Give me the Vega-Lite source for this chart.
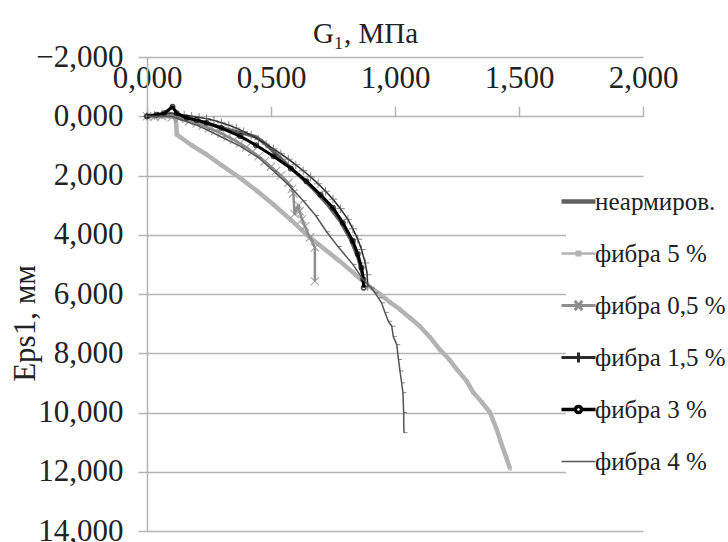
{
  "$schema": "https://vega.github.io/schema/vega-lite/v6.json",
  "width": 496,
  "height": 474,
  "autosize": {"type": "none"},
  "padding": {"left": 147, "top": 57, "right": 85, "bottom": 11},
  "background": "white",
  "config": {
    "locale": {"number": {"decimal": ",", "thousands": "\u00a0", "grouping": [3], "currency": ["", ""]}},
    "view": {"stroke": null},
    "font": "Liberation Serif"
  },
  "data": {"values": [
    {"s": "неармиров.", "g": 0, "e": 0}, {"s": "неармиров.", "g": 0.05, "e": -0.05}, {"s": "неармиров.", "g": 0.1, "e": -0.08}, {"s": "неармиров.", "g": 0.13, "e": 0}, {"s": "неармиров.", "g": 0.2, "e": 0.15}, {"s": "неармиров.", "g": 0.28, "e": 0.33}, {"s": "неармиров.", "g": 0.35, "e": 0.5}, {"s": "неармиров.", "g": 0.4, "e": 0.6}, {"s": "неармиров.", "g": 0.44, "e": 0.7}, {"s": "неармиров.", "g": 0.48, "e": 0.95}, {"s": "неармиров.", "g": 0.53, "e": 1.35}, {"s": "неармиров.", "g": 0.6, "e": 1.9}, {"s": "неармиров.", "g": 0.67, "e": 2.45}, {"s": "неармиров.", "g": 0.73, "e": 3.0}, {"s": "неармиров.", "g": 0.78, "e": 3.55}, {"s": "неармиров.", "g": 0.82, "e": 4.15}, {"s": "неармиров.", "g": 0.85, "e": 4.75}, {"s": "неармиров.", "g": 0.868, "e": 5.3}, {"s": "неармиров.", "g": 0.875, "e": 5.75},

    {"s": "фибра 5 %", "g": 0, "e": 0}, {"s": "фибра 5 %", "g": 0.05, "e": 0}, {"s": "фибра 5 %", "g": 0.114, "e": 0}, {"s": "фибра 5 %", "g": 0.118, "e": 0.3}, {"s": "фибра 5 %", "g": 0.12, "e": 0.62}, {"s": "фибра 5 %", "g": 0.18, "e": 0.98}, {"s": "фибра 5 %", "g": 0.24, "e": 1.29}, {"s": "фибра 5 %", "g": 0.3, "e": 1.65}, {"s": "фибра 5 %", "g": 0.375, "e": 2.08}, {"s": "фибра 5 %", "g": 0.44, "e": 2.5}, {"s": "фибра 5 %", "g": 0.51, "e": 2.98}, {"s": "фибра 5 %", "g": 0.58, "e": 3.5}, {"s": "фибра 5 %", "g": 0.643, "e": 3.99}, {"s": "фибра 5 %", "g": 0.71, "e": 4.45}, {"s": "фибра 5 %", "g": 0.777, "e": 4.89}, {"s": "фибра 5 %", "g": 0.83, "e": 5.27}, {"s": "фибра 5 %", "g": 0.885, "e": 5.67}, {"s": "фибра 5 %", "g": 0.938, "e": 6.0}, {"s": "фибра 5 %", "g": 0.98, "e": 6.28}, {"s": "фибра 5 %", "g": 1.02, "e": 6.52}, {"s": "фибра 5 %", "g": 1.06, "e": 6.8}, {"s": "фибра 5 %", "g": 1.1, "e": 7.09}, {"s": "фибра 5 %", "g": 1.14, "e": 7.45}, {"s": "фибра 5 %", "g": 1.18, "e": 7.87}, {"s": "фибра 5 %", "g": 1.22, "e": 8.22}, {"s": "фибра 5 %", "g": 1.25, "e": 8.55}, {"s": "фибра 5 %", "g": 1.29, "e": 8.95}, {"s": "фибра 5 %", "g": 1.315, "e": 9.32}, {"s": "фибра 5 %", "g": 1.35, "e": 9.65}, {"s": "фибра 5 %", "g": 1.383, "e": 10.0}, {"s": "фибра 5 %", "g": 1.41, "e": 10.57}, {"s": "фибра 5 %", "g": 1.435, "e": 11.2}, {"s": "фибра 5 %", "g": 1.45, "e": 11.55}, {"s": "фибра 5 %", "g": 1.464, "e": 11.9},

    {"s": "фибра 0,5 %", "g": 0, "e": 0}, {"s": "фибра 0,5 %", "g": 0.03, "e": 0.02}, {"s": "фибра 0,5 %", "g": 0.06, "e": 0}, {"s": "фибра 0,5 %", "g": 0.1, "e": 0.03}, {"s": "фибра 0,5 %", "g": 0.13, "e": 0.08}, {"s": "фибра 0,5 %", "g": 0.17, "e": 0.17}, {"s": "фибра 0,5 %", "g": 0.2, "e": 0.25}, {"s": "фибра 0,5 %", "g": 0.225, "e": 0.32}, {"s": "фибра 0,5 %", "g": 0.25, "e": 0.4}, {"s": "фибра 0,5 %", "g": 0.275, "e": 0.49}, {"s": "фибра 0,5 %", "g": 0.3, "e": 0.58}, {"s": "фибра 0,5 %", "g": 0.325, "e": 0.69}, {"s": "фибра 0,5 %", "g": 0.35, "e": 0.8}, {"s": "фибра 0,5 %", "g": 0.375, "e": 0.92}, {"s": "фибра 0,5 %", "g": 0.4, "e": 1.05}, {"s": "фибра 0,5 %", "g": 0.425, "e": 1.2}, {"s": "фибра 0,5 %", "g": 0.45, "e": 1.35}, {"s": "фибра 0,5 %", "g": 0.475, "e": 1.52}, {"s": "фибра 0,5 %", "g": 0.5, "e": 1.7}, {"s": "фибра 0,5 %", "g": 0.52, "e": 1.85}, {"s": "фибра 0,5 %", "g": 0.54, "e": 2.0}, {"s": "фибра 0,5 %", "g": 0.57, "e": 2.25}, {"s": "фибра 0,5 %", "g": 0.585, "e": 2.45}, {"s": "фибра 0,5 %", "g": 0.59, "e": 2.6}, {"s": "фибра 0,5 %", "g": 0.595, "e": 3.3}, {"s": "фибра 0,5 %", "g": 0.61, "e": 3.0}, {"s": "фибра 0,5 %", "g": 0.615, "e": 3.2}, {"s": "фибра 0,5 %", "g": 0.625, "e": 3.48}, {"s": "фибра 0,5 %", "g": 0.637, "e": 3.72}, {"s": "фибра 0,5 %", "g": 0.657, "e": 4.09}, {"s": "фибра 0,5 %", "g": 0.677, "e": 4.43}, {"s": "фибра 0,5 %", "g": 0.677, "e": 5.57},

    {"s": "фибра 1,5 %", "g": 0, "e": 0}, {"s": "фибра 1,5 %", "g": 0.03, "e": -0.03}, {"s": "фибра 1,5 %", "g": 0.06, "e": -0.07}, {"s": "фибра 1,5 %", "g": 0.09, "e": -0.1}, {"s": "фибра 1,5 %", "g": 0.12, "e": -0.08}, {"s": "фибра 1,5 %", "g": 0.15, "e": -0.04}, {"s": "фибра 1,5 %", "g": 0.18, "e": 0}, {"s": "фибра 1,5 %", "g": 0.21, "e": 0.04}, {"s": "фибра 1,5 %", "g": 0.24, "e": 0.08}, {"s": "фибра 1,5 %", "g": 0.27, "e": 0.14}, {"s": "фибра 1,5 %", "g": 0.3, "e": 0.22}, {"s": "фибра 1,5 %", "g": 0.33, "e": 0.3}, {"s": "фибра 1,5 %", "g": 0.36, "e": 0.4}, {"s": "фибра 1,5 %", "g": 0.39, "e": 0.52}, {"s": "фибра 1,5 %", "g": 0.42, "e": 0.64}, {"s": "фибра 1,5 %", "g": 0.45, "e": 0.78}, {"s": "фибра 1,5 %", "g": 0.48, "e": 0.94}, {"s": "фибра 1,5 %", "g": 0.51, "e": 1.1}, {"s": "фибра 1,5 %", "g": 0.54, "e": 1.27}, {"s": "фибра 1,5 %", "g": 0.57, "e": 1.45}, {"s": "фибра 1,5 %", "g": 0.6, "e": 1.64}, {"s": "фибра 1,5 %", "g": 0.63, "e": 1.84}, {"s": "фибра 1,5 %", "g": 0.66, "e": 2.05}, {"s": "фибра 1,5 %", "g": 0.69, "e": 2.28}, {"s": "фибра 1,5 %", "g": 0.72, "e": 2.53}, {"s": "фибра 1,5 %", "g": 0.75, "e": 2.8}, {"s": "фибра 1,5 %", "g": 0.78, "e": 3.12}, {"s": "фибра 1,5 %", "g": 0.81, "e": 3.48}, {"s": "фибра 1,5 %", "g": 0.83, "e": 3.8}, {"s": "фибра 1,5 %", "g": 0.85, "e": 4.15}, {"s": "фибра 1,5 %", "g": 0.865, "e": 4.5}, {"s": "фибра 1,5 %", "g": 0.88, "e": 4.95}, {"s": "фибра 1,5 %", "g": 0.888, "e": 5.35}, {"s": "фибра 1,5 %", "g": 0.89, "e": 5.75},

    {"s": "фибра 3 %", "g": 0, "e": 0}, {"s": "фибра 3 %", "g": 0.04, "e": -0.05}, {"s": "фибра 3 %", "g": 0.07, "e": -0.1}, {"s": "фибра 3 %", "g": 0.103, "e": -0.32}, {"s": "фибра 3 %", "g": 0.12, "e": -0.1}, {"s": "фибра 3 %", "g": 0.16, "e": 0.05}, {"s": "фибра 3 %", "g": 0.2, "e": 0.13}, {"s": "фибра 3 %", "g": 0.24, "e": 0.22}, {"s": "фибра 3 %", "g": 0.3, "e": 0.4}, {"s": "фибра 3 %", "g": 0.375, "e": 0.67}, {"s": "фибра 3 %", "g": 0.44, "e": 0.98}, {"s": "фибра 3 %", "g": 0.51, "e": 1.35}, {"s": "фибра 3 %", "g": 0.58, "e": 1.76}, {"s": "фибра 3 %", "g": 0.643, "e": 2.19}, {"s": "фибра 3 %", "g": 0.7, "e": 2.65}, {"s": "фибра 3 %", "g": 0.75, "e": 3.09}, {"s": "фибра 3 %", "g": 0.79, "e": 3.6}, {"s": "фибра 3 %", "g": 0.83, "e": 4.21}, {"s": "фибра 3 %", "g": 0.85, "e": 4.65}, {"s": "фибра 3 %", "g": 0.865, "e": 5.11}, {"s": "фибра 3 %", "g": 0.872, "e": 5.5}, {"s": "фибра 3 %", "g": 0.874, "e": 5.79},

    {"s": "фибра 4 %", "g": 0, "e": 0}, {"s": "фибра 4 %", "g": 0.05, "e": 0}, {"s": "фибра 4 %", "g": 0.1, "e": 0}, {"s": "фибра 4 %", "g": 0.13, "e": 0.1}, {"s": "фибра 4 %", "g": 0.2, "e": 0.3}, {"s": "фибра 4 %", "g": 0.24, "e": 0.45}, {"s": "фибра 4 %", "g": 0.3, "e": 0.7}, {"s": "фибра 4 %", "g": 0.375, "e": 1.01}, {"s": "фибра 4 %", "g": 0.45, "e": 1.4}, {"s": "фибра 4 %", "g": 0.51, "e": 1.85}, {"s": "фибра 4 %", "g": 0.576, "e": 2.36}, {"s": "фибра 4 %", "g": 0.63, "e": 2.85}, {"s": "фибра 4 %", "g": 0.68, "e": 3.35}, {"s": "фибра 4 %", "g": 0.724, "e": 3.9}, {"s": "фибра 4 %", "g": 0.77, "e": 4.4}, {"s": "фибра 4 %", "g": 0.83, "e": 5.0}, {"s": "фибра 4 %", "g": 0.87, "e": 5.5}, {"s": "фибра 4 %", "g": 0.905, "e": 5.8}, {"s": "фибра 4 %", "g": 0.919, "e": 5.96}, {"s": "фибра 4 %", "g": 0.933, "e": 6.13}, {"s": "фибра 4 %", "g": 0.946, "e": 6.3}, {"s": "фибра 4 %", "g": 0.96, "e": 6.63}, {"s": "фибра 4 %", "g": 0.973, "e": 6.92}, {"s": "фибра 4 %", "g": 0.987, "e": 7.09}, {"s": "фибра 4 %", "g": 0.993, "e": 7.43}, {"s": "фибра 4 %", "g": 1.007, "e": 7.71}, {"s": "фибра 4 %", "g": 1.014, "e": 8.21}, {"s": "фибра 4 %", "g": 1.02, "e": 8.6}, {"s": "фибра 4 %", "g": 1.027, "e": 9.0}, {"s": "фибра 4 %", "g": 1.032, "e": 9.33}, {"s": "фибра 4 %", "g": 1.035, "e": 10.0}, {"s": "фибра 4 %", "g": 1.036, "e": 10.68}
  ]},
  "encoding": {
    "x": {
      "field": "g", "type": "quantitative",
      "scale": {"domain": [0, 2], "nice": false, "zero": false},
      "axis": {
        "orient": "top", "offset": -59.25, "values": [0, 0.5, 1, 1.5, 2], "format": ".3f",
        "title": "G₁, МПа", "titleFont": "Liberation Serif", "titleFontSize": 29, "titleFontWeight": "normal", "titleColor": "#222",
        "titleX": 218, "titleY": -74, "titleBaseline": "alphabetic", "titleAlign": "center", "titleAnchor": null,
        "labelFont": "Liberation Serif", "labelFontSize": 31, "labelColor": "#222", "labelBaseline": "alphabetic",
        "labelPadding": 19, "tickSize": 10, "tickColor": "#b4b4b4", "tickWidth": 1.5,
        "domain": false, "grid": false, "labelFlush": false, "labelOverlap": false
      }
    },
    "y": {
      "field": "e", "type": "quantitative",
      "scale": {"domain": [-2, 14], "nice": false, "zero": false, "reverse": true},
      "axis": {
        "values": [-2, 0, 2, 4, 6, 8, 10, 12, 14], "format": ".3f",
        "title": "Eps1, мм", "titleFont": "Liberation Serif", "titleFontSize": 31, "titleFontWeight": "normal", "titleColor": "#222",
        "titleX": -122, "titleY": 266, "titleBaseline": "middle", "titleAlign": "center", "titleAnchor": null, "titleAngle": -90,
        "labelFont": "Liberation Serif", "labelFontSize": 31, "labelColor": "#222",
        "labelPadding": 15, "tickSize": 9, "tickColor": "#b4b4b4", "tickWidth": 1.5,
        "domain": true, "domainColor": "#b4b4b4", "domainWidth": 1.5,
        "grid": true, "gridColor": "#b4b4b4", "gridWidth": 1.5, "labelFlush": false, "labelOverlap": false
      }
    }
  },
  "layer": [
    {
      "transform": [{"filter": "datum.s === 'неармиров.'"}],
      "mark": {"type": "line", "strokeJoin": "round", "strokeWidth": 3.5},
      "encoding": {
        "order": {"value": null},
        "color": {
          "field": "s", "type": "nominal",
          "scale": {"domain": ["неармиров.", "фибра 5 %", "фибра 0,5 %", "фибра 1,5 %", "фибра 3 %", "фибра 4 %"],
                    "range": ["#606060", "#b3b3b3", "#8f8f8f", "#2a2a2a", "#000000", "#555555"]},
          "legend": {
            "orient": "none", "legendX": 419, "legendY": 132, "title": null, "direction": "vertical",
            "symbolType": "M-1,0L1,0", "symbolSize": 1156, "symbolStrokeWidth": 3, "symbolFillColor": "transparent",
            "labelFont": "Liberation Serif", "labelFontSize": 25, "labelColor": "#222", "labelOffset": 4, "labelLimit": 400,
            "rowPadding": 26, "fillColor": "white", "padding": 0,
            "encode": {"symbols": {"update": {
              "shape": {"signal": "datum.value === 'фибра 5 %' ? 'M-1,0L1,0M-0.1,-0.1L0.1,-0.1L0.1,0.1L-0.1,0.1Z' : datum.value === 'фибра 0,5 %' ? 'M-1,0L1,0M-0.22,-0.28L0.22,0.28M-0.22,0.28L0.22,-0.28' : datum.value === 'фибра 1,5 %' ? 'M-1,0L1,0M0,-0.3L0,0.3' : datum.value === 'фибра 3 %' ? 'M-1,0L-0.18,0M0.18,0L1,0M-0.18,0A0.18,0.18,0,1,0,0.18,0A0.18,0.18,0,1,0,-0.18,0' : 'M-1,0L1,0'"},
              "strokeWidth": {"signal": "datum.value === 'неармиров.' ? 4.5 : datum.value === 'фибра 5 %' ? 2.5 : datum.value === 'фибра 0,5 %' ? 3 : datum.value === 'фибра 1,5 %' ? 3 : datum.value === 'фибра 3 %' ? 3.5 : 1.5"}
            }}}
          }
        }
      }
    },
    {
      "transform": [{"filter": "datum.s === 'фибра 5 %'"}],
      "mark": {"type": "line", "strokeJoin": "round", "strokeWidth": 4.5},
      "encoding": {"order": {"value": null}, "color": {"field": "s", "type": "nominal"}}
    },
    {
      "transform": [{"filter": "datum.s === 'фибра 5 %'"}],
      "mark": {"type": "point", "shape": "square", "size": 16, "filled": true, "color": "#b3b3b3"}
    },
    {
      "transform": [{"filter": "datum.s === 'фибра 0,5 %'"}],
      "mark": {"type": "line", "strokeJoin": "round", "strokeWidth": 2.5},
      "encoding": {"order": {"value": null}, "color": {"field": "s", "type": "nominal"}}
    },
    {
      "transform": [{"filter": "datum.s === 'фибра 0,5 %'"}],
      "mark": {"type": "point", "shape": "M-1,-1L1,1M-1,1L1,-1", "size": 70, "filled": false, "stroke": "#8a8a8a", "strokeWidth": 1.2}
    },
    {
      "transform": [{"filter": "datum.s === 'фибра 1,5 %'"}],
      "mark": {"type": "line", "strokeJoin": "round", "strokeWidth": 1.5},
      "encoding": {"order": {"value": null}, "color": {"field": "s", "type": "nominal"}}
    },
    {
      "transform": [{"filter": "datum.s === 'фибра 1,5 %'"}],
      "mark": {"type": "point", "shape": "M-1,0L1,0M0,-1L0,1", "size": 72, "filled": false, "stroke": "#555555", "strokeWidth": 1}
    },
    {
      "transform": [{"filter": "datum.s === 'фибра 3 %'"}],
      "mark": {"type": "line", "strokeJoin": "round", "strokeWidth": 3},
      "encoding": {"order": {"value": null}, "color": {"field": "s", "type": "nominal"}}
    },
    {
      "transform": [{"filter": "datum.s === 'фибра 3 %'"}],
      "mark": {"type": "point", "shape": "circle", "size": 20, "filled": false, "stroke": "#000000", "strokeWidth": 1.5}
    },
    {
      "transform": [{"filter": "datum.s === 'фибра 4 %'"}],
      "mark": {"type": "line", "strokeJoin": "round", "strokeWidth": 1.5},
      "encoding": {"order": {"value": null}, "color": {"field": "s", "type": "nominal"}}
    },
    {
      "transform": [{"filter": "datum.s === 'фибра 4 %'"}],
      "mark": {"type": "point", "shape": "M0,0L1,0", "size": 50, "filled": false, "stroke": "#555555", "strokeWidth": 1}
    }
  ]
}
